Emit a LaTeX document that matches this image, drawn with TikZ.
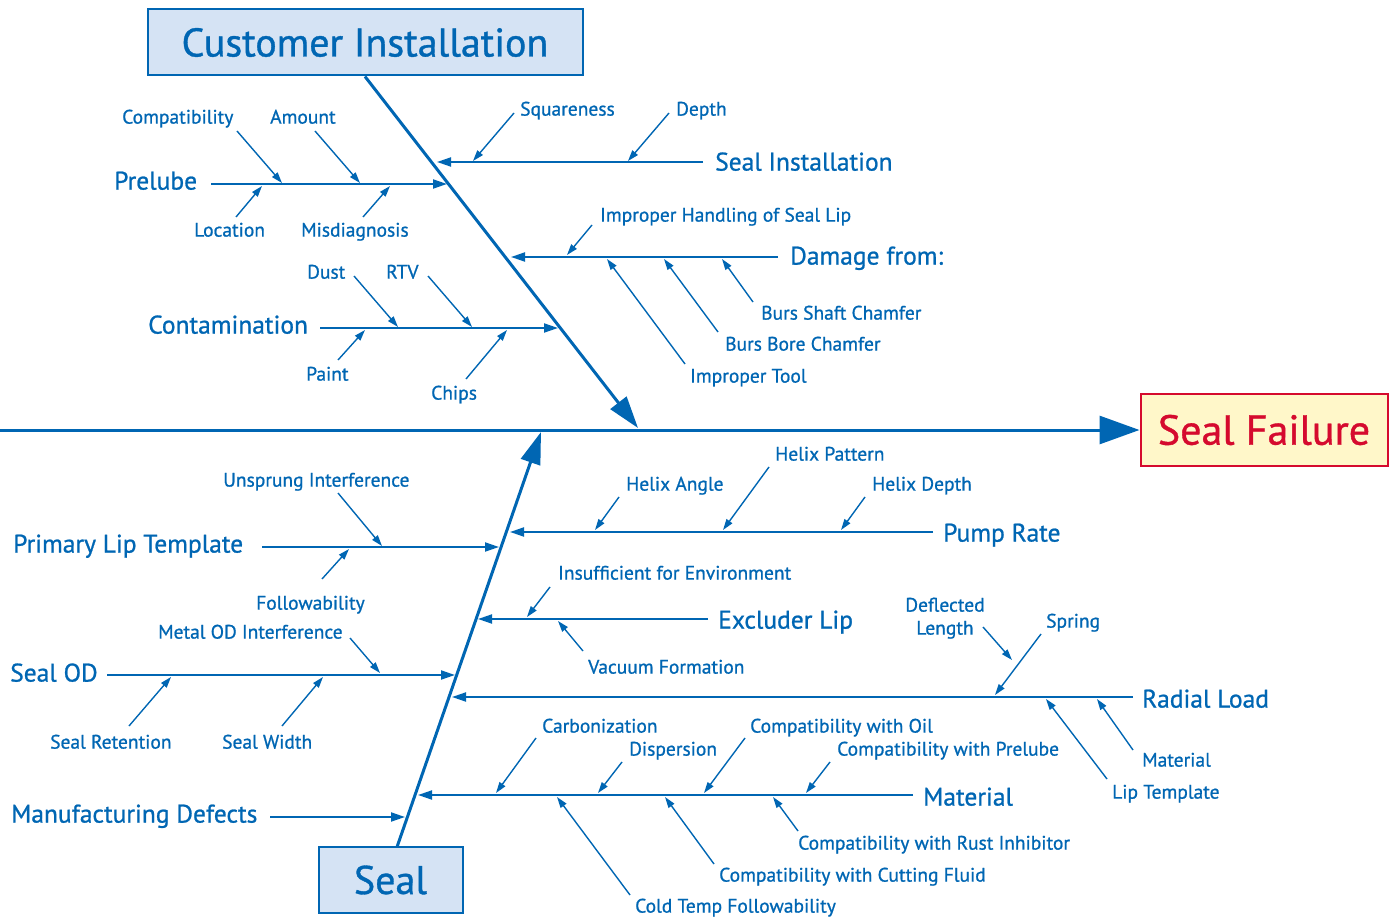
\documentclass[tikz,border=0pt]{standalone}
\usepackage{fontspec}
\setmainfont{PT Sans}[UprightFeatures={FakeBold=0.9}]
\usetikzlibrary{positioning,arrows.meta}
\definecolor{fishblue}{RGB}{0,102,179}
\definecolor{headfill}{RGB}{213,227,244}
\definecolor{failred}{RGB}{213,10,46}
\definecolor{failfill}{RGB}{255,247,201}
\tikzset{
  headbox/.style={draw=fishblue, line width=2pt, fill=headfill, text=fishblue, font=\fontsize{40}{44}\selectfont, inner sep=0pt},
  effectbox/.style={draw=failred, line width=2pt, fill=failfill, text=failred, font=\fontsize{42}{46}\selectfont, minimum width=247pt, minimum height=71pt, inner sep=0pt},
  spinearrow/.style={-{Triangle[length=40pt, width=28pt]}, line width=3pt, fishblue},
  bonearrow/.style={-{Triangle[length=32pt, width=20pt]}, line width=3pt, fishblue},
  branchline/.style={-{Triangle[length=14pt, width=9pt]}, line width=2pt, fishblue},
  subarrow/.style={-{Triangle[length=11pt, width=7pt]}, line width=1.4pt, fishblue},
  branchlabel/.style={anchor=west, yshift=-5pt, text=fishblue, font=\fontsize{25.5}{30}\selectfont, inner sep=0pt, text height=0.72em, text depth=0pt},
  sublabel/.style={anchor=west, yshift=-3pt, text=fishblue, font=\fontsize{19.5}{23}\selectfont, inner sep=0pt, text height=0.72em, text depth=0pt}
}

\begin{document}
\begin{tikzpicture}[x=1pt, y=-1pt]
  \useasboundingbox (0,0) rectangle (1393,917);
  % heads and effect
  \node[headbox, minimum width=435pt, minimum height=66pt] (custbox) at (365,42.5) {Customer Installation};
  \node[headbox, minimum width=144pt, minimum height=66pt] (sealbox) at (390.5,880) {Seal};
  \node[effectbox] (effect) at (1264,430) {Seal Failure};
  \coordinate (tail) at (0,430);
  \coordinate (uptip) at (638,428);
  \coordinate (lowfoot) at (397,847);
  \coordinate (lowtip) at (541,432);
  \draw[spinearrow] (tail) -- (effect.west);
  \draw[bonearrow] (custbox.south) -- (uptip);
  \draw[bonearrow] (lowfoot) -- (lowtip);

  % seal installation
  \node[branchlabel] (sealinst) at (715,162) {Seal Installation};
  \coordinate (si0) at (703,162); \coordinate (si1) at (437,162);
  \draw[branchline] (si0) -- (si1);
  \node[sublabel] (square) at (520,109) {Squareness};
  \coordinate (sq0) at (514,113); \coordinate (sq1) at (473,161);
  \draw[subarrow] (sq0) -- (sq1);
  \node[sublabel] (depth) at (676,109) {Depth};
  \coordinate (dp0) at (669,113); \coordinate (dp1) at (628,161);
  \draw[subarrow] (dp0) -- (dp1);

  % prelube
  \node[branchlabel] (prelube) at (114,181) {Prelube};
  \coordinate (pl0) at (211,184); \coordinate (pl1) at (447,184);
  \draw[branchline] (pl0) -- (pl1);
  \node[sublabel] (compat) at (122,117) {Compatibility};
  \coordinate (cp0) at (237,131); \coordinate (cp1) at (282,183);
  \draw[subarrow] (cp0) -- (cp1);
  \node[sublabel] (amount) at (270,117) {Amount};
  \coordinate (am0) at (315,131); \coordinate (am1) at (360,183);
  \draw[subarrow] (am0) -- (am1);
  \node[sublabel] (location) at (194,230) {Location};
  \coordinate (lc0) at (236,217); \coordinate (lc1) at (262,186);
  \draw[subarrow] (lc0) -- (lc1);
  \node[sublabel] (misdiag) at (301,230) {Misdiagnosis};
  \coordinate (md0) at (363,217); \coordinate (md1) at (390,186);
  \draw[subarrow] (md0) -- (md1);

  % damage from
  \node[branchlabel] (damage) at (790,256) {Damage from:};
  \coordinate (dm0) at (778,257); \coordinate (dm1) at (511,257);
  \draw[branchline] (dm0) -- (dm1);
  \node[sublabel] (handling) at (600,215) {Improper Handling of Seal Lip};
  \coordinate (hd0) at (592,225); \coordinate (hd1) at (567,255);
  \draw[subarrow] (hd0) -- (hd1);
  \node[sublabel] (shaft) at (761,313) {Burs Shaft Chamfer};
  \coordinate (bs0) at (753,302); \coordinate (bs1) at (722,259);
  \draw[subarrow] (bs0) -- (bs1);
  \node[sublabel] (bore) at (725,344) {Burs Bore Chamfer};
  \coordinate (bb0) at (718,332); \coordinate (bb1) at (664,259);
  \draw[subarrow] (bb0) -- (bb1);
  \node[sublabel] (tool) at (690,376) {Improper Tool};
  \coordinate (it0) at (685,364); \coordinate (it1) at (607,259);
  \draw[subarrow] (it0) -- (it1);

  % contamination
  \node[branchlabel] (contam) at (148,325) {Contamination};
  \coordinate (ct0) at (320,328); \coordinate (ct1) at (558,328);
  \draw[branchline] (ct0) -- (ct1);
  \node[sublabel] (dust) at (307,272) {Dust};
  \coordinate (du0) at (354,276); \coordinate (du1) at (398,327);
  \draw[subarrow] (du0) -- (du1);
  \node[sublabel] (rtv) at (386,272) {RTV};
  \coordinate (rt0) at (428,276); \coordinate (rt1) at (472,327);
  \draw[subarrow] (rt0) -- (rt1);
  \node[sublabel] (paint) at (306,374) {Paint};
  \coordinate (pa0) at (338,360); \coordinate (pa1) at (365,330);
  \draw[subarrow] (pa0) -- (pa1);
  \node[sublabel] (chips) at (431,393) {Chips};
  \coordinate (ch0) at (466,379); \coordinate (ch1) at (507,330);
  \draw[subarrow] (ch0) -- (ch1);

  % primary lip template
  \node[branchlabel] (primary) at (13,544) {Primary Lip Template};
  \coordinate (pr0) at (262,547); \coordinate (pr1) at (499,547);
  \draw[branchline] (pr0) -- (pr1);
  \node[sublabel] (unsprung) at (223,480) {Unsprung Interference};
  \coordinate (un0) at (338,493); \coordinate (un1) at (382,546);
  \draw[subarrow] (un0) -- (un1);
  \node[sublabel] (follow) at (256,603) {Followability};
  \coordinate (fo0) at (322,579); \coordinate (fo1) at (349,549);
  \draw[subarrow] (fo0) -- (fo1);

  % seal od
  \node[branchlabel] (sealod) at (10,673) {Seal OD};
  \coordinate (od0) at (107,675); \coordinate (od1) at (455,675);
  \draw[branchline] (od0) -- (od1);
  \node[sublabel] (metalod) at (158,632) {Metal OD Interference};
  \coordinate (mo0) at (350,638); \coordinate (mo1) at (380,673);
  \draw[subarrow] (mo0) -- (mo1);
  \node[sublabel] (retention) at (50,742) {Seal Retention};
  \coordinate (re0) at (129,726); \coordinate (re1) at (171,677);
  \draw[subarrow] (re0) -- (re1);
  \node[sublabel] (width) at (222,742) {Seal Width};
  \coordinate (sw0) at (282,726); \coordinate (sw1) at (323,677);
  \draw[subarrow] (sw0) -- (sw1);

  % manufacturing defects
  \node[branchlabel] (manuf) at (11,814) {Manufacturing Defects};
  \coordinate (mf0) at (270,817); \coordinate (mf1) at (405,817);
  \draw[branchline] (mf0) -- (mf1);

  % pump rate
  \node[branchlabel] (pump) at (943,533) {Pump Rate};
  \coordinate (pu0) at (933,532); \coordinate (pu1) at (510,532);
  \draw[branchline] (pu0) -- (pu1);
  \node[sublabel] (hangle) at (626,484) {Helix Angle};
  \coordinate (ha0) at (619,497); \coordinate (ha1) at (595,530);
  \draw[subarrow] (ha0) -- (ha1);
  \node[sublabel] (hpattern) at (775,454) {Helix Pattern};
  \coordinate (hp0) at (769,467); \coordinate (hp1) at (723,530);
  \draw[subarrow] (hp0) -- (hp1);
  \node[sublabel] (hdepth) at (872,484) {Helix Depth};
  \coordinate (hh0) at (865,497); \coordinate (hh1) at (841,530);
  \draw[subarrow] (hh0) -- (hh1);

  % excluder lip
  \node[branchlabel] (excluder) at (718,620) {Excluder Lip};
  \coordinate (ex0) at (708,619); \coordinate (ex1) at (478,619);
  \draw[branchline] (ex0) -- (ex1);
  \node[sublabel] (insuff) at (558,573) {Insufficient for Environment};
  \coordinate (in0) at (550,587); \coordinate (in1) at (527,617);
  \draw[subarrow] (in0) -- (in1);
  \node[sublabel] (vacuum) at (588,667) {Vacuum Formation};
  \coordinate (va0) at (583,651); \coordinate (va1) at (558,621);
  \draw[subarrow] (va0) -- (va1);

  % radial load
  \node[branchlabel] (radial) at (1142,699) {Radial Load};
  \coordinate (rl0) at (1133,697); \coordinate (rl1) at (452,697);
  \draw[branchline] (rl0) -- (rl1);
  \node[sublabel, anchor=center, align=center] (deflect) at (945,628) {Deflected\\Length};
  \coordinate (de0) at (983,627); \coordinate (de1) at (1012,660);
  \draw[subarrow] (de0) -- (de1);
  \node[sublabel] (spring) at (1046,621) {Spring};
  \coordinate (sp0) at (1041,634); \coordinate (sp1) at (995,695);
  \draw[subarrow] (sp0) -- (sp1);
  \node[sublabel] (rmaterial) at (1142,760) {Material};
  \coordinate (rm0) at (1133,750); \coordinate (rm1) at (1097,699);
  \draw[subarrow] (rm0) -- (rm1);
  \node[sublabel] (liptemp) at (1112,792) {Lip Template};
  \coordinate (lt0) at (1107,779); \coordinate (lt1) at (1046,699);
  \draw[subarrow] (lt0) -- (lt1);

  % material
  \node[branchlabel] (material) at (923,797) {Material};
  \coordinate (ma0) at (913,795); \coordinate (ma1) at (418,795);
  \draw[branchline] (ma0) -- (ma1);
  \node[sublabel] (carbon) at (542,726) {Carbonization};
  \coordinate (cb0) at (536,738); \coordinate (cb1) at (496,793);
  \draw[subarrow] (cb0) -- (cb1);
  \node[sublabel] (disper) at (629,749) {Dispersion};
  \coordinate (di0) at (622,762); \coordinate (di1) at (598,793);
  \draw[subarrow] (di0) -- (di1);
  \node[sublabel] (withoil) at (750,726) {Compatibility with Oil};
  \coordinate (wo0) at (745,738); \coordinate (wo1) at (704,793);
  \draw[subarrow] (wo0) -- (wo1);
  \node[sublabel] (withpre) at (837,749) {Compatibility with Prelube};
  \coordinate (wp0) at (830,762); \coordinate (wp1) at (806,793);
  \draw[subarrow] (wp0) -- (wp1);
  \node[sublabel] (withrust) at (798,843) {Compatibility with Rust Inhibitor};
  \coordinate (wr0) at (798,831); \coordinate (wr1) at (773,797);
  \draw[subarrow] (wr0) -- (wr1);
  \node[sublabel] (withcut) at (719,875) {Compatibility with Cutting Fluid};
  \coordinate (wc0) at (714,864); \coordinate (wc1) at (665,797);
  \draw[subarrow] (wc0) -- (wc1);
  \node[sublabel] (coldtemp) at (635,906) {Cold Temp Followability};
  \coordinate (ck0) at (630,895); \coordinate (ck1) at (557,797);
  \draw[subarrow] (ck0) -- (ck1);
\end{tikzpicture}
\end{document}
